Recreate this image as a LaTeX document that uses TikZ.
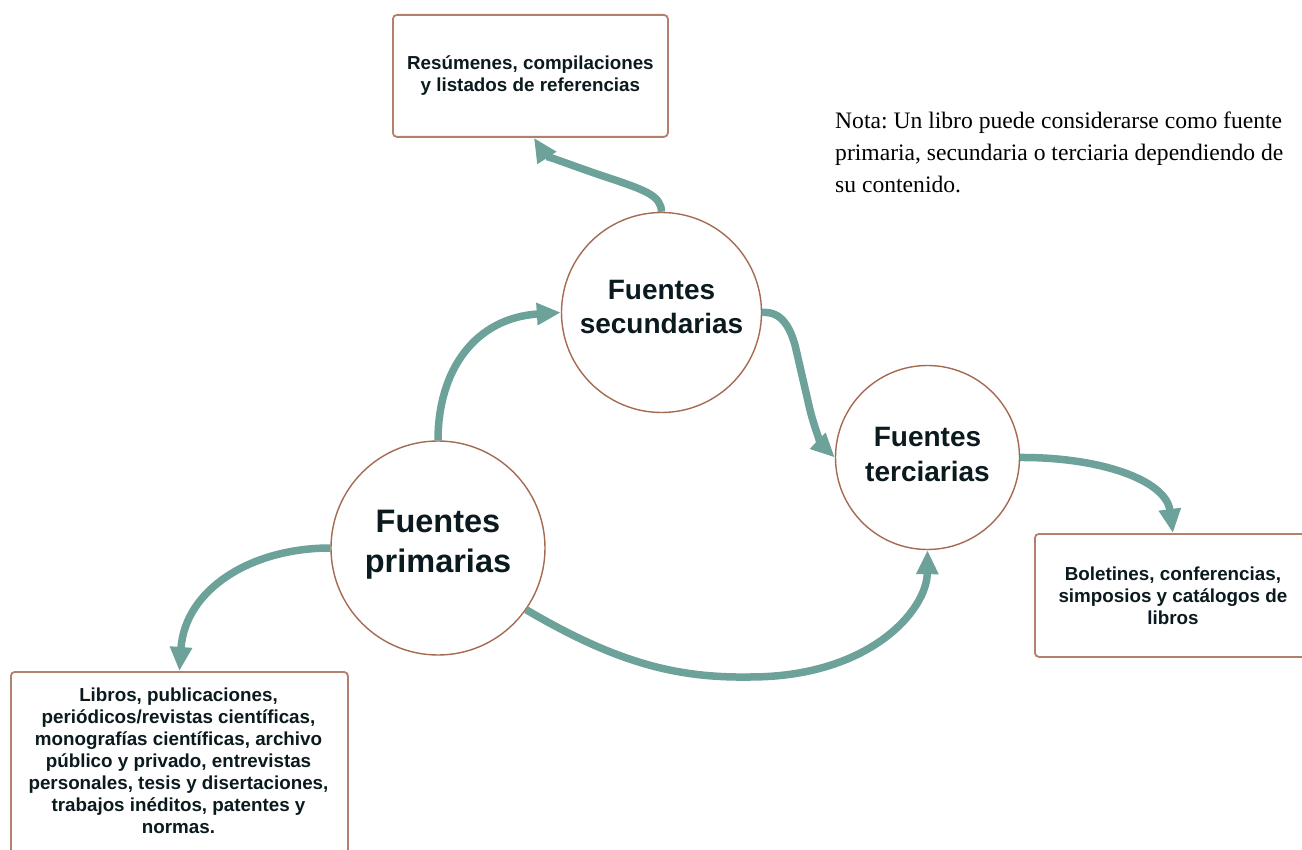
\documentclass[tikz,border=0pt]{standalone}
\usepackage{fontspec}
\setmainfont{Liberation Serif}
\newfontfamily\sansfam{Liberation Sans}
\usetikzlibrary{arrows.meta}
\definecolor{tealc}{HTML}{6DA29A}
\definecolor{brownb}{HTML}{A56A52}
\definecolor{txt}{HTML}{0B1A1E}
\begin{document}
\frenchspacing
\begin{tikzpicture}[x=1pt,y=-1pt,
  circ/.style={circle,draw=brownb,line width=1.4pt,fill=white,inner sep=0pt},
  circtxt/.style={align=center,text=txt,inner sep=0pt,anchor=north},
  boxn/.style={rectangle,rounded corners=4pt,draw=brownb!85,line width=1.8pt,fill=white,inner sep=0pt},
  boxtxt/.style={align=center,text=txt,inner sep=0pt,font=\sansfam\bfseries\fontsize{18.8}{22}\selectfont},
  conn/.style={draw=tealc,line width=7.5pt,-{Triangle[width=21pt,length=24pt]}}]
\useasboundingbox (0,0) rectangle (1302,850);
\clip (0,0) rectangle (1302,850);

% boxes
\node[boxn,minimum width=275pt,minimum height=122pt,anchor=north west] (top) at (392,14) {};
\node[boxtxt] (toptxt) at (top.center) {Resúmenes, compilaciones\\y listados de referencias};

\node[boxn,minimum width=276pt,minimum height=123pt,anchor=north west] (right) at (1034,533) {};
\node[boxtxt] (righttxt) at (right.center) {Boletines, conferencias,\\simposios y catálogos de\\libros};

\node[boxn,minimum width=337pt,minimum height=200pt,anchor=north west] (bl) at (10,671) {};
\node[boxtxt,anchor=north] (bltxt) at (178.5,688) {Libros, publicaciones,\\periódicos/revistas científicas,\\monografías científicas, archivo\\público y privado, entrevistas\\personales, tesis y disertaciones,\\trabajos inéditos, patentes y\\normas.};

% circles
\node[circ,minimum size=200pt] (sec) at (661.5,312.5) {};
\node[circtxt,font=\sansfam\bfseries\fontsize{28}{34}\selectfont] (sectxt) at (661.5,280) {Fuentes\\secundarias};

\node[circ,minimum size=184pt] (ter) at (927.5,457.5) {};
\node[circtxt,font=\sansfam\bfseries\fontsize{28}{35}\selectfont] (tertxt) at (927.5,427) {Fuentes\\terciarias};

\node[circ,minimum size=214pt] (prim) at (438,548) {};
\node[circtxt,font=\sansfam\bfseries\fontsize{32.5}{40}\selectfont] (primtxt) at (438,510) {Fuentes\\primarias};

% note
\node[anchor=north west,align=left,inner sep=0pt,text=black,font=\fontsize{23.6}{32}\selectfont] (nota) at (835,112) {Nota: Un libro puede considerarse como fuente\\primaria, secundaria o terciaria dependiendo de\\su contenido.};

% connectors
\draw[conn] (sec.north) .. controls (661,195) and (645,190) .. (600,175) .. controls (565,163) and (545,155) .. ([xshift=3.5pt]top.south);
\draw[conn] (prim.north) .. controls (438,370) and (475,318) .. (sec.west);
\draw[conn] (sec.east) .. controls (782,311) and (790,328) .. (795,345) -- (810,410) .. controls (815,430) and (822,445) .. (ter.west);
\draw[conn] (ter.east) .. controls (1100,457) and (1166,480) .. (right.north);
\draw[conn] (prim.west) .. controls (250,548) and (185,590) .. (bl.north);
\draw[conn] (prim.-35) .. controls (620,665) and (680,678) .. (750,677) .. controls (870,677) and (927,610) .. (ter.south);
\end{tikzpicture}
\end{document}
